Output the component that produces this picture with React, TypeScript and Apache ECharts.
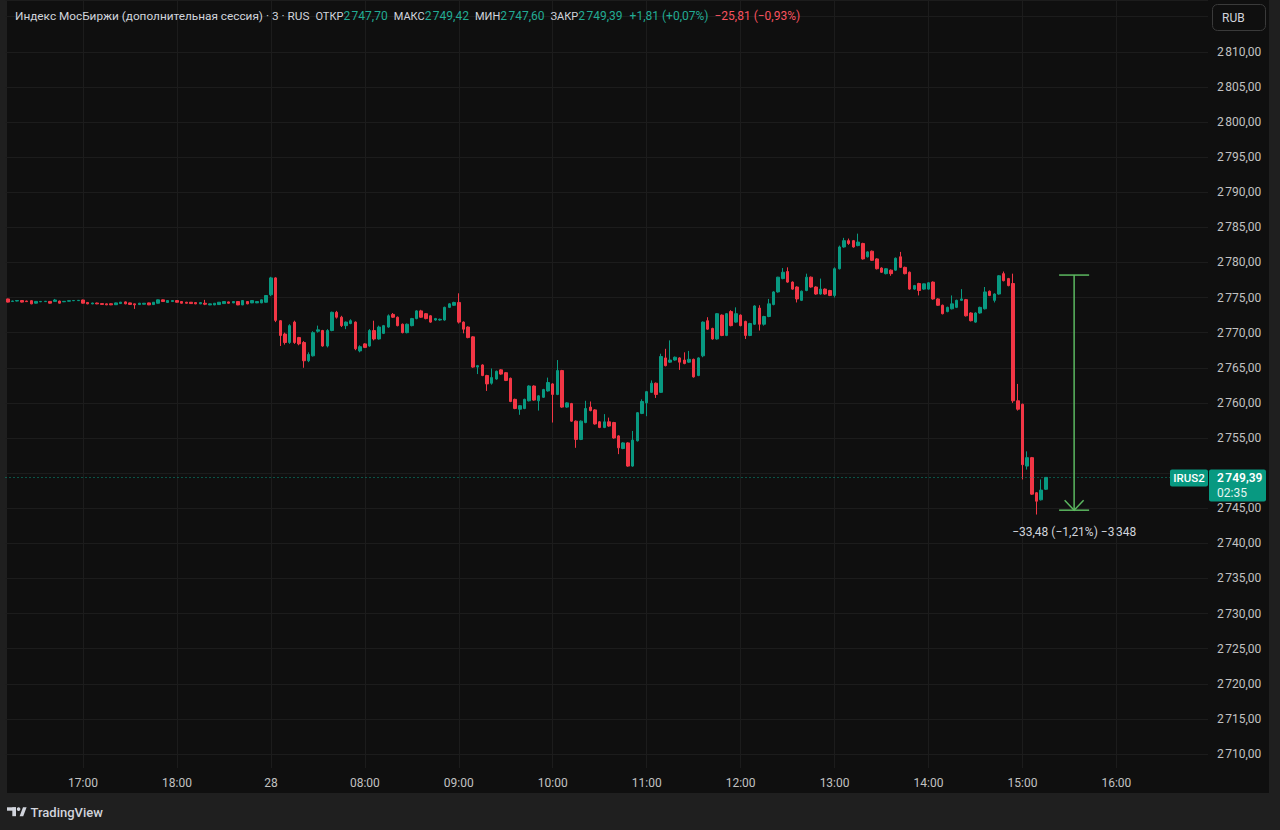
import React, { useEffect, useRef } from "react";
import * as echarts from "echarts";

// ---------- data ----------
// sessions shown on the time axis (3-minute bars)
const sessionDays = ["27", "28"];
const sessionStarts = ["16:12", "07:00"];
const sessionBars = [56, 200];

// day 27, 16:12 – 18:57  [open, high, low, close]
const ohlc27: number[][] = [
  [2774.8, 2774.85, 2774.3, 2774.35], [2774.45, 2774.55, 2774.4, 2774.5], [2774.5, 2774.62, 2774.45, 2774.58], [2774.58, 2774.62, 2774.3, 2774.35],
  [2774.5, 2774.55, 2774.4, 2774.42], [2774.55, 2774.6, 2774.05, 2774.1], [2774.2, 2774.5, 2774.15, 2774.45], [2774.4, 2774.48, 2774.35, 2774.45],
  [2774.42, 2774.5, 2774.38, 2774.47], [2774.45, 2774.5, 2774.15, 2774.2], [2774.45, 2774.8, 2774.4, 2774.65], [2774.5, 2774.55, 2774.15, 2774.2],
  [2774.4, 2774.5, 2774.35, 2774.46], [2774.48, 2774.58, 2774.44, 2774.55], [2774.55, 2774.62, 2774.5, 2774.58], [2774.56, 2774.62, 2774.52, 2774.6],
  [2774.65, 2774.7, 2774.15, 2774.2], [2774.3, 2774.35, 2774.05, 2774.1], [2774.1, 2774.26, 2774.05, 2774.22], [2774.22, 2774.28, 2774.05, 2774.1],
  [2774.14, 2774.18, 2773.98, 2774.02], [2774.1, 2774.14, 2773.92, 2773.96], [2774.12, 2774.16, 2773.92, 2773.96], [2773.98, 2774.28, 2773.95, 2774.24],
  [2774.14, 2774.38, 2774.1, 2774.34], [2774.38, 2774.44, 2774.05, 2774.1], [2774.24, 2774.28, 2773.98, 2774.02], [2774.1, 2774.14, 2773.38, 2773.96],
  [2774.0, 2774.24, 2773.96, 2774.19], [2774.05, 2774.22, 2774.02, 2774.19], [2774.24, 2774.28, 2773.92, 2773.96], [2774.0, 2774.36, 2773.96, 2774.33],
  [2774.19, 2774.72, 2774.15, 2774.67], [2774.67, 2774.72, 2774.4, 2774.43], [2774.3, 2774.6, 2774.26, 2774.57], [2774.43, 2774.6, 2774.4, 2774.57],
  [2774.57, 2774.62, 2774.3, 2774.33], [2774.43, 2774.48, 2774.15, 2774.19], [2774.33, 2774.38, 2774.15, 2774.19], [2774.33, 2774.36, 2774.1, 2774.14],
  [2774.28, 2774.32, 2774.06, 2774.1], [2774.1, 2774.32, 2774.06, 2774.28], [2774.19, 2774.67, 2773.92, 2774.05], [2773.95, 2774.14, 2773.92, 2774.1],
  [2773.95, 2774.22, 2773.92, 2774.19], [2774.0, 2774.36, 2773.96, 2774.33], [2774.14, 2774.46, 2774.1, 2774.43], [2774.38, 2774.42, 2774.15, 2774.19],
  [2774.24, 2774.46, 2774.2, 2774.43], [2774.43, 2774.46, 2773.92, 2773.95], [2773.95, 2774.6, 2773.92, 2774.57], [2774.43, 2774.48, 2774.05, 2774.1],
  [2774.24, 2774.6, 2774.2, 2774.57], [2774.24, 2774.48, 2774.2, 2774.43], [2774.24, 2774.72, 2774.2, 2774.67], [2774.33, 2775.35, 2774.28, 2775.29],
];

// day 28, 07:00 – 15:15  [open, high, low, close]
const ohlc28: number[][] = [
  [2775.4, 2777.95, 2775.2, 2777.8], [2777.8, 2777.9, 2771.5, 2771.75], [2771.7, 2771.8, 2768.1, 2769.6], [2769.8, 2770.0, 2768.3, 2768.6],
  [2768.6, 2771.2, 2768.4, 2771.0], [2771.5, 2771.7, 2768.4, 2768.6], [2769.3, 2769.4, 2768.2, 2768.4], [2768.6, 2768.8, 2765.0, 2766.0],
  [2766.0, 2767.2, 2765.8, 2766.9], [2766.7, 2770.2, 2766.6, 2770.0], [2770.2, 2771.0, 2770.0, 2770.4], [2770.3, 2770.4, 2768.0, 2768.1],
  [2768.1, 2770.5, 2767.9, 2770.3], [2770.3, 2773.0, 2770.2, 2772.9], [2772.9, 2773.1, 2772.0, 2772.2], [2772.2, 2772.4, 2770.8, 2771.0],
  [2771.0, 2771.6, 2770.5, 2771.5], [2771.3, 2771.9, 2771.2, 2771.7], [2771.5, 2771.6, 2767.5, 2767.7], [2767.4, 2768.2, 2767.2, 2768.0],
  [2768.4, 2768.5, 2767.8, 2767.9], [2768.1, 2770.5, 2768.0, 2770.3], [2770.3, 2771.7, 2768.9, 2769.1], [2769.1, 2771.0, 2769.0, 2770.8],
  [2769.9, 2771.1, 2769.8, 2771.0], [2770.8, 2772.6, 2770.7, 2772.4], [2772.6, 2772.8, 2772.1, 2772.2], [2772.2, 2772.3, 2770.9, 2771.0],
  [2771.2, 2771.3, 2769.9, 2770.0], [2770.0, 2771.3, 2769.9, 2771.2], [2771.0, 2772.1, 2770.9, 2772.0], [2772.0, 2773.2, 2771.9, 2773.1],
  [2773.1, 2773.25, 2772.1, 2772.2], [2772.7, 2772.8, 2771.9, 2772.0], [2772.4, 2772.5, 2771.4, 2771.5], [2771.8, 2772.1, 2771.7, 2772.0],
  [2771.8, 2772.0, 2771.7, 2771.9], [2771.8, 2773.7, 2771.7, 2773.6], [2773.6, 2774.2, 2773.5, 2774.1], [2773.9, 2774.4, 2773.8, 2774.3],
  [2774.3, 2775.6, 2771.3, 2771.5], [2771.5, 2771.6, 2769.9, 2770.5], [2770.8, 2770.9, 2769.2, 2769.3], [2769.4, 2769.5, 2765.0, 2765.1],
  [2765.1, 2765.4, 2764.1, 2765.3], [2765.4, 2765.5, 2763.8, 2763.9], [2763.9, 2764.0, 2761.7, 2762.7], [2762.8, 2764.9, 2762.6, 2763.6],
  [2763.4, 2764.6, 2763.3, 2764.5], [2764.7, 2764.8, 2764.0, 2764.1], [2764.3, 2764.4, 2763.1, 2763.2], [2763.5, 2763.6, 2760.1, 2760.2],
  [2760.5, 2760.6, 2759.1, 2759.2], [2759.1, 2759.7, 2758.3, 2759.6], [2759.2, 2760.6, 2759.1, 2760.5], [2760.3, 2762.5, 2760.2, 2762.4],
  [2762.4, 2762.5, 2760.3, 2760.4], [2760.3, 2761.1, 2758.9, 2761.0], [2760.8, 2762.0, 2760.7, 2761.9], [2761.7, 2763.6, 2761.6, 2762.9],
  [2762.7, 2762.8, 2757.2, 2761.2], [2761.2, 2766.1, 2761.1, 2764.6], [2764.6, 2764.7, 2759.3, 2759.4], [2759.4, 2760.1, 2759.3, 2760.0],
  [2759.9, 2760.0, 2757.3, 2757.4], [2757.4, 2757.5, 2753.6, 2754.8], [2754.8, 2757.5, 2754.7, 2757.4], [2757.2, 2760.3, 2757.1, 2759.2],
  [2759.4, 2760.2, 2758.8, 2758.9], [2759.0, 2759.1, 2756.9, 2757.0], [2757.3, 2757.4, 2756.4, 2756.5], [2756.5, 2758.4, 2756.4, 2757.3],
  [2757.3, 2757.9, 2756.6, 2756.7], [2757.2, 2757.3, 2754.9, 2755.0], [2755.3, 2755.4, 2752.7, 2753.6], [2753.5, 2754.4, 2753.4, 2754.3],
  [2754.3, 2754.4, 2750.9, 2751.0], [2751.0, 2756.0, 2750.9, 2754.7], [2754.6, 2758.7, 2754.5, 2758.6], [2758.5, 2760.5, 2758.4, 2760.2],
  [2760.0, 2761.7, 2758.1, 2761.6], [2761.5, 2763.2, 2761.4, 2762.8], [2762.8, 2762.9, 2760.7, 2761.2], [2761.5, 2767.0, 2761.4, 2766.6],
  [2766.4, 2767.7, 2765.2, 2765.3], [2765.8, 2768.9, 2765.7, 2766.1], [2766.1, 2766.6, 2766.0, 2766.5], [2766.4, 2766.5, 2764.7, 2765.8],
  [2766.1, 2767.2, 2765.5, 2765.6], [2765.8, 2767.4, 2765.7, 2766.2], [2766.2, 2766.3, 2763.6, 2763.7], [2763.9, 2766.5, 2763.8, 2766.4],
  [2766.7, 2771.6, 2766.5, 2771.5], [2771.7, 2772.2, 2770.4, 2770.5], [2770.6, 2770.7, 2769.0, 2769.1], [2769.1, 2772.8, 2769.0, 2772.7],
  [2772.5, 2772.6, 2769.5, 2769.6], [2769.6, 2772.8, 2769.5, 2772.7], [2773.0, 2773.2, 2770.9, 2771.0], [2771.5, 2773.6, 2771.4, 2772.7],
  [2772.5, 2772.6, 2770.9, 2771.0], [2771.6, 2771.7, 2769.1, 2769.6], [2769.6, 2771.4, 2769.5, 2771.3], [2771.2, 2773.9, 2771.1, 2773.8],
  [2773.5, 2773.9, 2770.3, 2771.2], [2771.2, 2772.4, 2771.0, 2772.3], [2772.3, 2774.8, 2772.2, 2774.1], [2774.0, 2775.9, 2773.9, 2775.8],
  [2775.8, 2777.95, 2775.7, 2777.9], [2777.7, 2779.2, 2777.6, 2778.6], [2778.7, 2779.3, 2777.1, 2777.2], [2777.2, 2777.3, 2776.1, 2776.2],
  [2776.5, 2776.6, 2774.3, 2774.8], [2774.6, 2776.0, 2774.5, 2775.9], [2776.0, 2778.4, 2775.9, 2777.9], [2777.9, 2778.0, 2776.4, 2776.5],
  [2776.5, 2776.6, 2775.4, 2775.5], [2775.5, 2777.7, 2775.4, 2776.2], [2776.2, 2776.3, 2775.4, 2775.5], [2776.0, 2776.1, 2775.2, 2775.3],
  [2775.3, 2779.3, 2775.0, 2779.1], [2779.1, 2782.4, 2779.0, 2782.2], [2782.2, 2783.5, 2782.1, 2783.1], [2783.1, 2783.4, 2782.5, 2782.7],
  [2783.1, 2783.2, 2782.1, 2782.2], [2782.4, 2784.1, 2782.3, 2782.9], [2782.7, 2782.8, 2780.4, 2780.5], [2780.8, 2781.6, 2780.7, 2781.5],
  [2781.6, 2781.7, 2780.2, 2780.3], [2780.5, 2780.6, 2779.0, 2779.1], [2779.2, 2779.3, 2778.5, 2778.6], [2778.4, 2779.2, 2778.3, 2779.1],
  [2778.9, 2779.0, 2778.1, 2778.4], [2778.9, 2780.7, 2778.8, 2780.6], [2780.8, 2781.5, 2779.2, 2779.3], [2779.3, 2779.4, 2778.3, 2778.4],
  [2778.6, 2778.7, 2776.1, 2776.2], [2776.2, 2776.8, 2776.1, 2776.7], [2777.0, 2777.1, 2775.3, 2776.0], [2776.2, 2777.0, 2776.1, 2776.95],
  [2776.2, 2777.2, 2776.1, 2777.1], [2777.2, 2777.3, 2774.7, 2774.8], [2774.8, 2774.9, 2773.8, 2773.9], [2773.9, 2774.0, 2772.6, 2772.7],
  [2773.0, 2773.7, 2772.9, 2773.6], [2773.4, 2775.3, 2773.3, 2774.1], [2773.6, 2774.7, 2773.5, 2774.6], [2774.6, 2776.2, 2774.5, 2774.8],
  [2774.7, 2774.8, 2772.3, 2772.4], [2772.8, 2772.9, 2771.6, 2771.7], [2771.5, 2772.9, 2771.4, 2772.8], [2772.8, 2773.7, 2772.7, 2773.6],
  [2773.4, 2776.5, 2773.3, 2775.8], [2775.9, 2776.0, 2775.2, 2775.3], [2774.6, 2775.6, 2774.3, 2775.5], [2775.5, 2778.2, 2775.4, 2778.1],
  [2778.4, 2778.7, 2777.3, 2777.4], [2777.7, 2777.8, 2776.6, 2776.7], [2777.0, 2778.4, 2760.0, 2760.3], [2760.3, 2762.7, 2758.9, 2759.1],
  [2759.8, 2759.9, 2749.1, 2751.2], [2751.0, 2753.1, 2750.5, 2752.2], [2752.2, 2752.3, 2746.9, 2747.0], [2747.2, 2747.3, 2744.1, 2746.0],
  [2746.2, 2749.1, 2746.1, 2747.58], [2747.7, 2749.42, 2747.6, 2749.39],
];

// price scale
const priceMin = 2710;
const priceMax = 2817.37;
const priceStep = 5;

// header (last bar) and measure annotation values
const headerTitle = "Индекс МосБиржи (дополнительная сессия) · 3 · RUS";
const lastBar = { open: 2747.7, high: 2749.42, low: 2747.6, close: 2749.39 };
const changeText = "+1,81 (+0,07%)";
const dayChangeText = "−25,81 (−0,93%)";
const measureFrom = 2778.2;
const measureTo = 2744.72;
const measureBarIndex = 227;
const measureText = "−33,48 (−1,21%) −3\u202F348";
const ticker = "IRUS2";
const countdown = "02:35";
const currency = "RUB";

// ---------- helpers ----------
const FONT = 'Roboto, "Noto Sans", "DejaVu Sans", sans-serif';
const UP = "#089981";
const DOWN = "#f23645";
const TEXT = "#d1d4dc";
const AXIS_TEXT = "#c2c2c2";
const GRID = "#1c1c1c";
const VAL_UP = "#22ab94";
const VAL_DOWN = "#f7525f";

function fmtPrice(v: number): string {
  const [i, d] = v.toFixed(2).split(".");
  return i.replace(/\B(?=(\d{3})+(?!\d))/g, "\u202F") + "," + d;
}

function buildTimes(): string[] {
  const out: string[] = [];
  sessionDays.forEach((day, s) => {
    const [h, m] = sessionStarts[s].split(":").map(Number);
    let t = h * 60 + m;
    for (let k = 0; k < sessionBars[s]; k++) {
      const hh = String(Math.floor(t / 60)).padStart(2, "0");
      const mm = String(t % 60).padStart(2, "0");
      out.push(`${day} ${hh}:${mm}`);
      t += 3;
    }
  });
  return out;
}

const times = buildTimes();
const dayStartLabels = sessionDays.map((d, s) => `${d} ${sessionStarts[s]}`).slice(1);

const isHour = (_i: number, v: string) => v.endsWith(":00") || dayStartLabels.includes(v);
const fmtTime = (v: string) => (dayStartLabels.includes(v) ? v.split(" ")[0] : v.split(" ")[1]);

export default function App() {
  const ref = useRef<HTMLDivElement>(null);

  useEffect(() => {
    if (!ref.current) return;
    const chart = echarts.init(ref.current, null, { renderer: "svg" });
    const bars = [...ohlc27, ...ohlc28];
    const data = bars.map(([o, h, l, c]) => [o, c, l, h]);

    chart.setOption({
      animation: false,
      backgroundColor: "transparent",
      grid: [
        { left: 5.5, right: 72, top: 0, bottom: 76 },
        { left: 5.5, right: 72, top: 0, bottom: 62 },
      ],
      xAxis: [
        { type: "category", gridIndex: 0, data: times, show: false, boundaryGap: true },
        {
          type: "category",
          gridIndex: 1,
          data: times,
          boundaryGap: true,
          axisLine: { show: false },
          axisTick: { show: false },
          axisLabel: { interval: isHour, formatter: fmtTime, color: AXIS_TEXT, fontSize: 12, fontFamily: FONT, margin: 9 },
          splitLine: { show: true, interval: isHour, alignWithLabel: true, lineStyle: { color: GRID, width: 1 } },
        },
      ],
      yAxis: [
        {
          type: "value",
          gridIndex: 0,
          position: "right",
          min: priceMin,
          max: priceMax,
          interval: priceStep,
          axisLine: { show: false },
          axisTick: { show: false },
          axisLabel: {
            color: AXIS_TEXT,
            fontSize: 12,
            fontFamily: FONT,
            margin: 9,
            showMaxLabel: false,
            // labels hidden behind the currency button and the last-price badge
            formatter: (v: number) => (v === 2815 || v === 2750 ? "" : fmtPrice(v)),
          },
          splitLine: { show: true, lineStyle: { color: GRID, width: 1 } },
        },
        { type: "value", gridIndex: 1, show: false, splitLine: { show: false } },
      ],
      series: [
        {
          type: "candlestick",
          xAxisIndex: 0,
          yAxisIndex: 0,
          data,
          barWidth: 3,
          itemStyle: { color: UP, color0: DOWN, borderColor: UP, borderColor0: DOWN, borderWidth: 1 },
          markLine: {
            silent: true,
            symbol: "none",
            label: { show: false },
            lineStyle: { color: UP, type: [1, 3], width: 1 },
            data: [{ yAxis: lastBar.close }],
          },
        },
      ],
    });

    const yLast = chart.convertToPixel({ yAxisIndex: 0 }, lastBar.close) as number;
    const y1 = chart.convertToPixel({ yAxisIndex: 0 }, measureFrom) as number;
    const y2 = chart.convertToPixel({ yAxisIndex: 0 }, measureTo) as number;
    const xm = chart.convertToPixel({ xAxisIndex: 0 }, times[measureBarIndex]) as number;
    const MEAS = "#5cb860";

    const headerRich = [
      `{t|${headerTitle}}`,
      `{l|ОТКР}{v|${fmtPrice(lastBar.open)}}`,
      `{l|МАКС}{v|${fmtPrice(lastBar.high)}}`,
      `{l|МИН}{v|${fmtPrice(lastBar.low)}}`,
      `{l|ЗАКР}{v|${fmtPrice(lastBar.close)}}`,
      `{g|${changeText}}`,
      `{r|${dayChangeText}}`,
    ].join("");

    const graphic: any[] = [
      {
        type: "text",
        z: 100,
        x: 15,
        y: 16,
        style: {
          text: headerRich,
          verticalAlign: "middle",
          align: "left",
          font: `12px ${FONT}`,
          fill: TEXT,
          rich: {
            t: { fill: TEXT, fontSize: 11.8, fontFamily: FONT },
            l: { fill: TEXT, fontSize: 11, fontFamily: FONT, padding: [0, 0, 0, 6] },
            v: { fill: VAL_UP, fontSize: 12, fontFamily: FONT },
            g: { fill: VAL_UP, fontSize: 12, fontFamily: FONT, padding: [0, 0, 0, 7] },
            r: { fill: VAL_DOWN, fontSize: 12, fontFamily: FONT, padding: [0, 0, 0, 6] },
          },
        },
      },
      // currency button
      {
        type: "rect",
        z: 100,
        shape: { x: 1212.5, y: 4.5, width: 53, height: 26, r: 5 },
        style: { fill: "#0f0f0f", stroke: "#3a3a3a", lineWidth: 1 },
      },
      {
        type: "text",
        z: 101,
        x: 1222,
        y: 18,
        style: { text: currency, fill: TEXT, font: `12px ${FONT}`, verticalAlign: "middle" },
      },
      // last price labels
      {
        type: "rect",
        z: 100,
        shape: { x: 1170, y: yLast - 8, width: 38, height: 17, r: 2 },
        style: { fill: UP },
      },
      {
        type: "text",
        z: 101,
        x: 1189,
        y: yLast + 0.5,
        style: { text: ticker, fill: "#ffffff", font: `500 11.5px ${FONT}`, align: "center", verticalAlign: "middle" },
      },
      {
        type: "rect",
        z: 100,
        shape: { x: 1209, y: yLast - 8, width: 57, height: 32, r: 2 },
        style: { fill: UP },
      },
      {
        type: "text",
        z: 101,
        x: 1217,
        y: yLast + 0.5,
        style: { text: fmtPrice(lastBar.close), fill: "#ffffff", font: `600 12px ${FONT}`, verticalAlign: "middle" },
      },
      {
        type: "text",
        z: 101,
        x: 1217,
        y: yLast + 15.5,
        style: { text: countdown, fill: "#e6f5f1", font: `12px ${FONT}`, verticalAlign: "middle" },
      },
      // measure tool
      {
        type: "line",
        z: 100,
        shape: { x1: xm - 15, y1: y1, x2: xm + 15, y2: y1 },
        style: { stroke: MEAS, lineWidth: 1.5 },
      },
      {
        type: "line",
        z: 100,
        shape: { x1: xm - 15, y1: y2, x2: xm + 15, y2: y2 },
        style: { stroke: MEAS, lineWidth: 1.5 },
      },
      {
        type: "line",
        z: 100,
        shape: { x1: xm, y1: y1, x2: xm, y2: y2 },
        style: { stroke: MEAS, lineWidth: 1.5 },
      },
      {
        type: "polyline",
        z: 100,
        shape: { points: [[xm - 9.5, y2 - 10], [xm, y2], [xm + 9.5, y2 - 10]] },
        style: { stroke: MEAS, lineWidth: 1.5, fill: "none" },
      },
      {
        type: "text",
        z: 100,
        x: xm,
        y: y2 + 22,
        style: { text: measureText, fill: TEXT, font: `12px ${FONT}`, align: "center", verticalAlign: "middle" },
      },
      // TradingView logo
      { type: "rect", z: 100, shape: { x: 7, y: 807.3, width: 9, height: 3.4 }, style: { fill: TEXT } },
      { type: "rect", z: 100, shape: { x: 12.3, y: 807.3, width: 3.7, height: 8.9 }, style: { fill: TEXT } },
      { type: "circle", z: 100, shape: { cx: 18.6, cy: 809.1, r: 1.8 }, style: { fill: TEXT } },
      {
        type: "polygon",
        z: 100,
        shape: { points: [[19.6, 816.2], [23.2, 816.2], [26.6, 807.3], [23.0, 807.3]] },
        style: { fill: TEXT },
      },
      {
        type: "text",
        z: 100,
        x: 30.5,
        y: 812,
        style: { text: "TradingView", fill: TEXT, font: `500 13px ${FONT}`, verticalAlign: "middle" },
      },
    ];

    chart.setOption({ graphic });

    return () => chart.dispose();
  }, []);

  return (
    <div style={{ position: "fixed", left: 0, top: 0, width: 1280, height: 830, background: "#1f1f1f", overflow: "hidden" }}>
      <div style={{ position: "absolute", left: 7, top: 0, width: 1262, height: 793, background: "#0f0f0f" }} />
      <div ref={ref} style={{ position: "absolute", left: 0, top: 0, width: 1280, height: 830 }} />
    </div>
  );
}
